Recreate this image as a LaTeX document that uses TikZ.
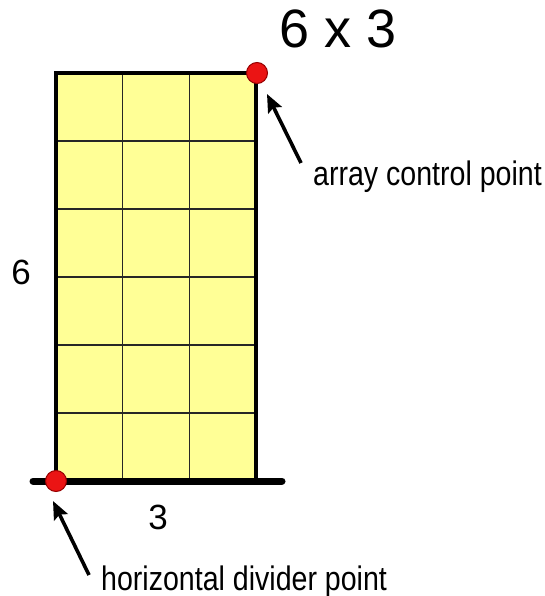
\documentclass[tikz,border=0pt]{standalone}
\usepackage{fontspec}
\setmainfont{Liberation Sans}
\usetikzlibrary{arrows.meta}
\definecolor{cellyellow}{RGB}{255,255,150}
\definecolor{dotred}{RGB}{235,20,20}
\definecolor{dotedge}{RGB}{150,0,0}
\tikzset{
  gridline/.style={line width=1.4pt, black!85},
  border/.style={line width=4pt, black},
  baseline line/.style={line width=7pt, black, line cap=round},
  ctrldot/.style={circle, fill=dotred, draw=dotedge, line width=1pt, minimum size=21pt, inner sep=0pt},
  pointer/.style={line width=3.6pt, -{Stealth[length=18pt,width=15pt,inset=3pt]}},
  smalltext/.style={font=\fontsize{34}{40}\selectfont, inner sep=0pt},
  digit/.style={font=\fontsize{35}{40}\selectfont, inner sep=0pt},
  titletext/.style={font=\fontsize{54}{60}\selectfont, inner sep=0pt}
}
\begin{document}
\begin{tikzpicture}[x=1pt, y=-1pt]
\useasboundingbox (0,0) rectangle (545,596);
% cells
\fill[cellyellow] (56,73) rectangle (256,481);
\foreach \yy in {141,209,277,345,413}
  \draw[gridline] (56,\yy) -- (256,\yy);
\foreach \xx in {122.7,189.3}
  \draw[gridline] (\xx,73) -- (\xx,481);
% outer border
\draw[border, line join=miter] (56,481) -- (56,73) -- (256,73) -- (256,481);
% horizontal divider line
\coordinate (hl) at (33,481);
\coordinate (hr) at (282,481);
\draw[baseline line] (hl) -- (hr);
% dots
\node[ctrldot] (cp) at (257,73) {};
\node[ctrldot] (hp) at (56,481) {};
% labels
\node[titletext, anchor=base] (title) at (338,48) {6 x 3};
\node[smalltext, anchor=base west] (acp) at (313,185) {\scalebox{0.84}[1]{array control point}};
\node[smalltext, anchor=base west] (hdp) at (101,590) {\scalebox{0.84}[1]{horizontal divider point}};
\node[digit, anchor=base] (six) at (21,284) {6};
\node[digit, anchor=base] (three) at (158,529) {3};
% pointers
\coordinate (at) at (301,163);
\coordinate (ah) at (267,94);
\draw[pointer] (at) -- (ah);
\coordinate (bt) at (89,575);
\coordinate (bh) at (53,501);
\draw[pointer] (bt) -- (bh);
\end{tikzpicture}
\end{document}
